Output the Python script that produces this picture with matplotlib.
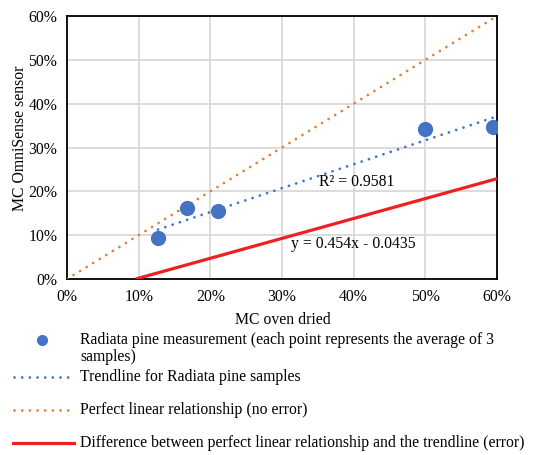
import matplotlib.pyplot as plt
import numpy as np
from matplotlib.lines import Line2D

plt.rcParams['font.family'] = ['Liberation Serif', 'DejaVu Serif']

# moisture content, oven dried vs OmniSense sensor (fractions)
mc_oven = [0.127, 0.167, 0.210, 0.500, 0.594]
mc_sensor = [0.094, 0.161, 0.155, 0.343, 0.346]

# trendline of the sensor readings and the error line (perfect - trend)
trend_slope, trend_icpt = 0.546, 0.0435
err_slope, err_icpt = 0.454, -0.0435
r_squared = 0.9581

blue = '#4472C4'
orange = '#ED7D31'
red = '#F02020'
dots = (0, (0.01, 2.75))
fs = 11.3

fig = plt.figure(figsize=(5.33, 4.55), dpi=100)
ax = fig.add_axes([0.1257, 0.3868, 0.8068, 0.578])

# perfect 1:1 line
xp = np.array([0.0, 0.6])
ax.plot(xp, xp, color=orange, lw=2.0, linestyle=dots, dash_capstyle='round', zorder=3)

# trendline over the measured range
xt = np.array([min(mc_oven), max(mc_oven)])
ax.plot(xt, trend_slope * xt + trend_icpt, color=blue, lw=2.0, linestyle=dots,
        dash_capstyle='round', zorder=3)

# error line, from where it crosses zero
xe = np.array([-err_icpt / err_slope, 0.6])
ax.plot(xe, err_slope * xe + err_icpt, color=red, lw=2.3, solid_capstyle='butt', zorder=3)

ax.scatter(mc_oven, mc_sensor, s=120, color=blue, zorder=4, linewidths=0)

ax.text(0.352, 0.221, f'R² = {r_squared}', fontsize=fs, va='center', ha='left')
ax.text(0.313, 0.080, f'y = {err_slope}x - {-err_icpt}', fontsize=fs, va='center', ha='left')

ax.set_xlim(0, 0.6)
ax.set_ylim(0, 0.6)
ticks = np.arange(0, 0.61, 0.1)
ax.set_xticks(ticks)
ax.set_yticks(ticks)
ax.set_xticklabels([f'{int(round(t * 100))}%' for t in ticks], fontsize=fs)
ax.set_yticklabels([f'{int(round(t * 100))}%' for t in ticks], fontsize=fs)
ax.tick_params(length=0, pad=7)
ax.grid(True, color='#d9d9d9', lw=1.3)
ax.set_axisbelow(True)
for s in ax.spines.values():
    s.set_color('black')
    s.set_linewidth(1.3)

ax.set_xlabel('MC oven dried', fontsize=fs)
ax.set_ylabel('MC OmniSense sensor', fontsize=fs)
ax.xaxis.set_label_coords(0.502, -0.156)
ax.yaxis.set_label_coords(-0.109, 0.535)
ax.xaxis.label.set_va('center')
ax.yaxis.label.set_va('center')

# legend drawn below the axes
W, H = 533, 455
def fx(px):
    return px / W
def fy(py):
    return 1 - py / H

fig.add_artist(Line2D([fx(42)], [fy(340)], marker='o', markersize=8, color=blue,
                      markeredgewidth=0, transform=fig.transFigure))
fig.text(fx(80), fy(340), 'Radiata pine measurement (each point represents the average of 3',
         fontsize=fs, va='center')
fig.text(fx(80), fy(357), 'samples)', fontsize=fs, va='center')

fig.add_artist(Line2D([fx(14), fx(73)], [fy(377), fy(377)], color=blue, lw=2.0,
                      linestyle=dots, dash_capstyle='round', transform=fig.transFigure))
fig.text(fx(80), fy(377), 'Trendline for Radiata pine samples', fontsize=fs, va='center')

fig.add_artist(Line2D([fx(14), fx(73)], [fy(410), fy(410)], color=orange, lw=2.0,
                      linestyle=dots, dash_capstyle='round', transform=fig.transFigure))
fig.text(fx(80), fy(410), 'Perfect linear relationship (no error)', fontsize=fs, va='center')

fig.add_artist(Line2D([fx(13), fx(74)], [fy(443), fy(443)], color=red, lw=2.3,
                      transform=fig.transFigure))
fig.text(fx(80), fy(443), 'Difference between perfect linear relationship and the trendline (error)',
         fontsize=fs, va='center')

fig.savefig('out.png', dpi=100)
